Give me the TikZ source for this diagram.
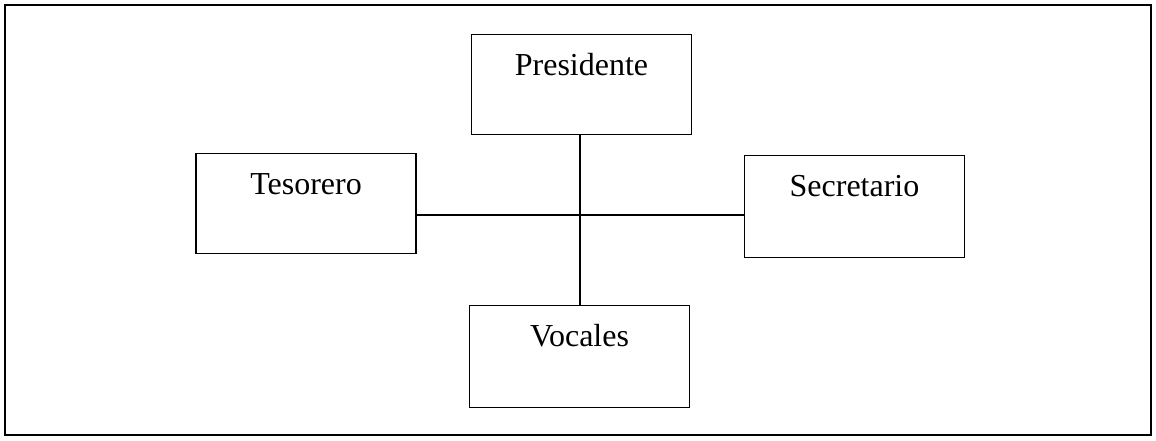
\documentclass[tikz,border=0pt]{standalone}
\usepackage{fontspec}
\setmainfont{Liberation Serif}

\begin{document}
\begin{tikzpicture}[x=1pt,y=-1pt]

\tikzstyle{cargo}=[rectangle,draw=black,line width=1.4pt,minimum width=220pt,inner xsep=0pt,inner ysep=0pt,text height=41pt,text depth=59pt,anchor=north,font=\fontsize{32}{38}\selectfont]
\tikzstyle{enlace}=[line width=1.1pt]

\useasboundingbox (0,0) rectangle (1156,440);
%frame
\draw[line width=1.3pt] (5,5) rectangle (1151,435);

\node[cargo] (presidente) at (581.5,34) {Presidente};
\node[cargo] (tesorero) at (306,153) {Tesorero};
\node[cargo,text depth=61pt] (secretario) at (854.5,155) {Secretario};
\node[cargo,text depth=61pt] (vocales) at (579.5,305) {Vocales};

\coordinate (cruce) at (580,215);

%connections
\draw[enlace] (presidente.south -| cruce) -- (vocales.north -| cruce);
\draw[enlace] (tesorero.east |- cruce) -- (secretario.west |- cruce);

\end{tikzpicture}
\end{document}
